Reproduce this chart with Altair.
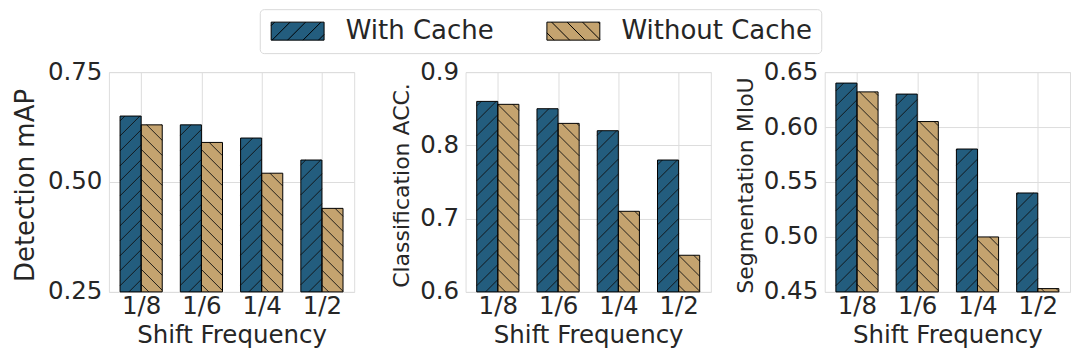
import json
import math
import altair as alt
import pandas as pd

# ---------------- data ----------------
categories = ["1/8", "1/6", "1/4", "1/2"]
series = ["With Cache", "Without Cache"]

det_with = [0.65, 0.63, 0.60, 0.55]
det_without = [0.63, 0.59, 0.52, 0.44]
cls_with = [0.86, 0.85, 0.82, 0.78]
cls_without = [0.856, 0.83, 0.71, 0.65]
seg_with = [0.64, 0.63, 0.58, 0.54]
seg_without = [0.632, 0.605, 0.50, 0.453]

det_ticks = [0.25, 0.50, 0.75]
cls_ticks = [0.6, 0.7, 0.8, 0.9]
seg_ticks = [0.45, 0.50, 0.55, 0.60, 0.65]

det_title = "Detection mAP"
cls_title = "Classification ACC."
seg_title = "Segmentation MIoU"
x_title = "Shift Frequency"

# ---------------- style ----------------
COLORS = ["#235d7e", "#c4a36f"]
FONT = "DejaVu Sans"
TEXT = "#262626"
GRID = "#dddddd"
W, H = 245.5, 220
BAR_W = 0.35
XDOM = [-0.535, 3.535]
HATCH = 15.0
TICK_FS = 24.5


def bar_table(vals_with, vals_without, base):
    rows = []
    for i, c in enumerate(categories):
        rows.append(dict(cat=c, series=series[0], value=vals_with[i],
                         x0=i - BAR_W, x1=i, base=base))
        rows.append(dict(cat=c, series=series[1], value=vals_without[i],
                         x0=i, x1=i + BAR_W, base=base))
    return pd.DataFrame(rows)


def hatch_table(bars, ydom):
    xspan = XDOM[1] - XDOM[0]
    yspan = ydom[1] - ydom[0]

    def px(x):
        return (x - XDOM[0]) / xspan * W

    def py(y):
        return (ydom[1] - y) / yspan * H

    def dx(p):
        return XDOM[0] + p / W * xspan

    def dy(p):
        return ydom[1] - p / H * yspan

    segs = []
    for r in bars.itertuples():
        x0, x1 = px(r.x0), px(r.x1)
        yt, yb = py(r.value), py(r.base)
        if r.series == series[0]:
            k0 = math.ceil((x0 + yt) / HATCH)
            k1 = math.floor((x1 + yb) / HATCH)
            for k in range(k0, k1 + 1):
                c = k * HATCH
                xa = max(x0, c - yb)
                xb = min(x1, c - yt)
                if xb - xa < 0.3:
                    continue
                segs.append(dict(hx=dx(xa), hy=dy(c - xa), hx2=dx(xb), hy2=dy(c - xb)))
        else:
            k0 = math.ceil((x0 - yb) / HATCH)
            k1 = math.floor((x1 - yt) / HATCH)
            for k in range(k0, k1 + 1):
                c = k * HATCH
                xa = max(x0, c + yt)
                xb = min(x1, c + yb)
                if xb - xa < 0.3:
                    continue
                segs.append(dict(hx=dx(xa), hy=dy(xa - c), hx2=dx(xb), hy2=dy(xb - c)))
    return pd.DataFrame(segs)


# legend key: a 53x18 px box with hatch, drawn as a custom symbol path
SYM_SIZE = 449               # sqrt -> 21.2 px, path unit = 10.6 px
SYM_X0, SYM_X1, SYM_HH = -1.0, 4.0, 0.85
SYM_PERIOD = 1.46


def symbol_path(kind, phase):
    parts = [f"M{SYM_X0},{-SYM_HH}H{SYM_X1}V{SYM_HH}H{SYM_X0}Z"]
    for k in range(-8, 10):
        c = phase + k * SYM_PERIOD
        xa = max(SYM_X0, c - SYM_HH)
        xb = min(SYM_X1, c + SYM_HH)
        if xb - xa < 0.05:
            continue
        if kind == "/":
            ya, yb = c - xa, c - xb
        else:
            ya, yb = xa - c, xb - c
        parts.append(f"M{xa:.3f},{ya:.3f}L{xb:.3f},{yb:.3f}")
    return "".join(parts)


SHAPES = [symbol_path("/", -0.06), symbol_path("\\", 0.3)]

legend = alt.Legend(
    orient="none", legendX=151, legendY=-63, direction="horizontal", columns=2,
    title=None, labelFont=FONT, labelFontSize=26, labelColor=TEXT, labelLimit=400,
    symbolSize=SYM_SIZE, symbolStrokeWidth=1, symbolOpacity=1,
    labelOffset=51, columnPadding=50, padding=9, strokeColor="#d9d9d9",
    fillColor="white", cornerRadius=4,
)


def panel(vals_with, vals_without, ydom, ticks, fmt, title, title_size, title_x):
    bars = bar_table(vals_with, vals_without, ydom[0])
    hatch = hatch_table(bars, ydom)
    xs = alt.Scale(domain=XDOM, nice=False, zero=False)
    ys = alt.Scale(domain=ydom, nice=False, zero=False)
    xaxis = alt.Axis(
        values=list(range(len(categories))),
        labelExpr=f"{json.dumps(categories)}[datum.value]",
        title=x_title, labelFontSize=TICK_FS, titleFontSize=TICK_FS, labelPadding=3,
        titlePadding=5, ticks=False, domain=False, grid=True, gridColor=GRID,
        labelColor=TEXT, titleColor=TEXT, labelFont=FONT, titleFont=FONT,
        titleFontWeight="normal", labelFlush=False,
    )
    yaxis = alt.Axis(
        values=ticks, format=fmt, title=title, titleFontSize=title_size,
        labelFontSize=TICK_FS, labelPadding=7, ticks=False, domain=False, grid=True,
        gridColor=GRID, labelColor=TEXT, titleColor=TEXT, labelFont=FONT,
        titleFont=FONT, titleFontWeight="normal", titleX=title_x, titleY=H / 2 + 3,
        titleBaseline="middle", titleAngle=270, labelFlush=False,
    )
    fill = alt.Fill("series:N", scale=alt.Scale(domain=series, range=COLORS),
                    legend=legend)
    stroke = alt.Stroke("series:N", scale=alt.Scale(domain=series, range=["black", "black"]),
                        legend=legend)
    shape = alt.Shape("series:N", scale=alt.Scale(domain=series, range=SHAPES),
                      legend=legend)
    bar_fill = alt.Chart(bars).mark_bar(strokeWidth=0).encode(
        x=alt.X("x0:Q", scale=xs, axis=xaxis),
        x2="x1:Q",
        y=alt.Y("value:Q", scale=ys, axis=yaxis),
        y2="base:Q",
        fill=fill,
    )
    keys = alt.Chart(bars).mark_point(filled=True, opacity=0, size=1).encode(
        x=alt.X("x0:Q", scale=xs, axis=xaxis),
        y=alt.Y("value:Q", scale=ys, axis=yaxis),
        fill=fill,
        stroke=stroke,
        shape=shape,
    )
    lines = alt.Chart(hatch).mark_rule(stroke="#111111", strokeWidth=0.9).encode(
        x=alt.X("hx:Q", scale=xs, axis=xaxis),
        x2="hx2:Q",
        y=alt.Y("hy:Q", scale=ys, axis=yaxis),
        y2="hy2:Q",
    )
    outline = alt.Chart(bars).mark_bar(filled=False, stroke="black", strokeWidth=1).encode(
        x=alt.X("x0:Q", scale=xs, axis=xaxis),
        x2="x1:Q",
        y=alt.Y("value:Q", scale=ys, axis=yaxis),
        y2="base:Q",
    )
    return alt.layer(bar_fill, keys, lines, outline).properties(width=W, height=H)


p1 = panel(det_with, det_without, [0.25, 0.75], det_ticks, ".2f", det_title, 26, -83)
p2 = panel(cls_with, cls_without, [0.6, 0.9], cls_ticks, ".1f", cls_title, 22, -64)
p3 = panel(seg_with, seg_without, [0.45, 0.65], seg_ticks, ".2f", seg_title, 22, -79)

inner = alt.hconcat(p1, p2, spacing=35)
chart = alt.hconcat(inner, p3, spacing=22.5).properties(
    padding={"left": 4, "top": 0, "right": 0, "bottom": 0}
).configure(font=FONT).configure_view(stroke=GRID, strokeWidth=1)

chart.save("out.html", embed_options={"renderer": "svg", "actions": False})
